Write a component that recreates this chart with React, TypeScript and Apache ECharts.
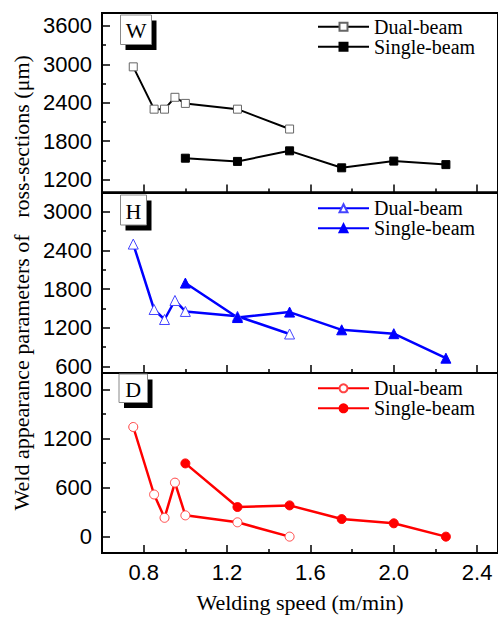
import React, { useEffect, useRef } from "react";
import * as echarts from "echarts";

// Welding speeds (m/min)
const speedDual = [0.75, 0.85, 0.9, 0.95, 1.0, 1.25, 1.5];
const speedSingle = [1.0, 1.25, 1.5, 1.75, 2.0, 2.25];

// W panel (um)
const dualW = [2960, 2300, 2300, 2485, 2390, 2300, 1990];
const singleW = [1535, 1485, 1650, 1385, 1490, 1435];
// H panel (um)
const dualH = [2500, 1485, 1330, 1625, 1455, 1380, 1105];
const singleH = [1895, 1360, 1445, 1170, 1110, 730];
// D panel (um)
const dualD = [1340, 515, 230, 660, 260, 175, 0];
const singleD = [895, 362, 382, 215, 163, 0];

// Tick values
const xMajor = [0.8, 1.2, 1.6, 2.0, 2.4];
const xMinor = [1.0, 1.4, 1.8, 2.2];
const wMajor = [1200, 1800, 2400, 3000, 3600];
const wMinor = [1500, 2100, 2700, 3300];
const hMajor = [600, 1200, 1800, 2400, 3000];
const hMinor = [900, 1500, 2100, 2700];
const dMajor = [0, 600, 1200, 1800];
const dMinor = [300, 900, 1500];

const panelLabels = ["W", "H", "D"];
const seriesNames = ["Dual-beam", "Single-beam"];

const SANS = "Liberation Sans";
const SERIF = "Liberation Serif";

const zip = (xs: number[], ys: number[]) => xs.map((x, i) => [x, ys[i]]);

export default function App() {
  const ref = useRef<HTMLDivElement>(null);

  useEffect(() => {
    document.body.style.margin = "0";
    document.body.style.overflow = "hidden";
    const chart = echarts.init(ref.current!, undefined, { renderer: "svg" });

    const grids = [
      { left: 102, top: 13, width: 399, height: 179.5 },
      { left: 102, top: 192.5, width: 399, height: 180.5 },
      { left: 102, top: 373, width: 399, height: 180 },
    ].map((g) => ({ ...g, show: true, borderColor: "#000", borderWidth: 2, backgroundColor: "transparent" }));

    const yRanges = [
      [1000, 3800],
      [500, 3300],
      [-200, 2000],
    ];
    const yMajors = [wMajor, hMajor, dMajor];
    const yMinors = [wMinor, hMinor, dMinor];

    const xAxis: any[] = [];
    const yAxis: any[] = [];
    for (let i = 0; i < 3; i++) {
      const isLast = i === 2;
      xAxis.push({
        type: "value",
        gridIndex: i,
        position: "bottom",
        min: 0.6,
        max: 2.5,
        axisLine: { show: true, onZero: false, lineStyle: { color: "#000", width: 2 } },
        axisTick: { show: true, inside: true, length: 8, customValues: xMajor, lineStyle: { color: "#000", width: 1.5 } },
        axisLabel: {
          show: isLast,
          customValues: xMajor,
          formatter: (v: number) => v.toFixed(1),
          color: "#000",
          fontFamily: SANS,
          fontSize: 22,
          margin: 8,
        },
        splitLine: { show: false },
        name: isLast ? "Welding speed (m/min)" : "",
        nameLocation: "middle",
        nameGap: 38,
        nameTextStyle: { fontFamily: SERIF, fontSize: 22, color: "#000", lineHeight: 22 },
      });
      xAxis.push({
        type: "value",
        gridIndex: i,
        position: "bottom",
        min: 0.6,
        max: 2.5,
        axisLine: { show: false, onZero: false },
        axisTick: { show: true, inside: true, length: 4, customValues: xMinor, lineStyle: { color: "#000", width: 1.5 } },
        axisLabel: { show: false },
        splitLine: { show: false },
      });
      yAxis.push({
        type: "value",
        gridIndex: i,
        position: "left",
        min: yRanges[i][0],
        max: yRanges[i][1],
        axisLine: { show: true, onZero: false, lineStyle: { color: "#000", width: 2 } },
        axisTick: { show: true, inside: true, length: 8, customValues: yMajors[i], lineStyle: { color: "#000", width: 1.5 } },
        axisLabel: {
          show: true,
          customValues: yMajors[i],
          formatter: (v: number) => String(Math.round(v)),
          color: "#000",
          fontFamily: SANS,
          fontSize: 22,
          margin: 10,
        },
        splitLine: { show: false },
        name: i === 1 ? "Weld appearance parameters of   ross-sections (\u03bcm)" : "",
        nameLocation: "middle",
        nameRotate: 90,
        nameGap: 69,
        nameTextStyle: { fontFamily: SERIF, fontSize: 22, color: "#000", lineHeight: 22 },
      });
      yAxis.push({
        type: "value",
        gridIndex: i,
        position: "left",
        min: yRanges[i][0],
        max: yRanges[i][1],
        axisLine: { show: false, onZero: false },
        axisTick: { show: true, inside: true, length: 4, customValues: yMinors[i], lineStyle: { color: "#000", width: 1.5 } },
        axisLabel: { show: false },
        splitLine: { show: false },
      });
    }

    const colors = ["#000000", "#0000ff", "#ff0000"];
    const openBorder = ["#666666", "#4444ff", "#ff4444"];
    const symbols = ["rect", "triangle", "circle"];
    const sizes = [8, 10, 9];
    const dualData = [dualW, dualH, dualD];
    const singleData = [singleW, singleH, singleD];
    const lineWidths = [2, 2.5, 2.5];

    const series: any[] = [];
    const legends: any[] = [];
    const legendTops = [16.7, 198.3, 378.3];
    for (let i = 0; i < 3; i++) {
      const p = panelLabels[i];
      series.push({
        type: "line",
        name: `${p} ${seriesNames[0]}`,
        xAxisIndex: 2 * i,
        yAxisIndex: 2 * i,
        data: zip(speedDual, dualData[i]),
        symbol: symbols[i],
        symbolSize: sizes[i],
        lineStyle: { color: colors[i], width: lineWidths[i] },
        itemStyle: { color: "#ffffff", borderColor: openBorder[i], borderWidth: 1 },
        z: 3,
      });
      series.push({
        type: "line",
        name: `${p} ${seriesNames[1]}`,
        xAxisIndex: 2 * i,
        yAxisIndex: 2 * i,
        data: zip(speedSingle, singleData[i]),
        symbol: symbols[i],
        symbolSize: sizes[i],
        lineStyle: { color: colors[i], width: lineWidths[i] },
        itemStyle: { color: colors[i], borderColor: colors[i], borderWidth: 1 },
        z: 3,
      });
      legends.push({
        orient: "vertical",
        left: 317,
        top: legendTops[i],
        padding: 0,
        itemGap: 0,
        itemWidth: 51,
        itemHeight: 10,
        data: [`${p} ${seriesNames[0]}`, `${p} ${seriesNames[1]}`],
        formatter: (n: string) => n.slice(2),
        textStyle: { fontFamily: SERIF, fontSize: 20, color: "#000", lineHeight: 20 },
        selectedMode: false,
      });
    }

    const boxes = [
      { x: 120.5, y: 15, w: 31, h: 29.5 },
      { x: 120.5, y: 195, w: 26, h: 30 },
      { x: 119, y: 374, w: 28.5, h: 28.5 },
    ];
    const graphic: any[] = [];
    boxes.forEach((b, i) => {
      graphic.push({
        type: "rect",
        shape: { x: b.x + 5, y: b.y + 5.5, width: b.w, height: b.h },
        style: { fill: "#000" },
        z: 10,
      });
      graphic.push({
        type: "rect",
        shape: { x: b.x, y: b.y, width: b.w, height: b.h },
        style: { fill: "#fff", stroke: "#888", lineWidth: 1 },
        z: 11,
      });
      graphic.push({
        type: "text",
        x: b.x + b.w / 2,
        y: b.y + b.h / 2 + 1,
        style: {
          text: panelLabels[i],
          fontFamily: SERIF,
          fontSize: 22,
          fill: "#000",
          align: "center",
          verticalAlign: "middle",
        },
        z: 12,
      });
    });

    chart.setOption({
      animation: false,
      backgroundColor: "#fff",
      grid: grids,
      xAxis,
      yAxis,
      series,
      legend: legends,
      graphic,
    });

    return () => chart.dispose();
  }, []);

  return <div ref={ref} style={{ width: 498, height: 617 }} />;
}
